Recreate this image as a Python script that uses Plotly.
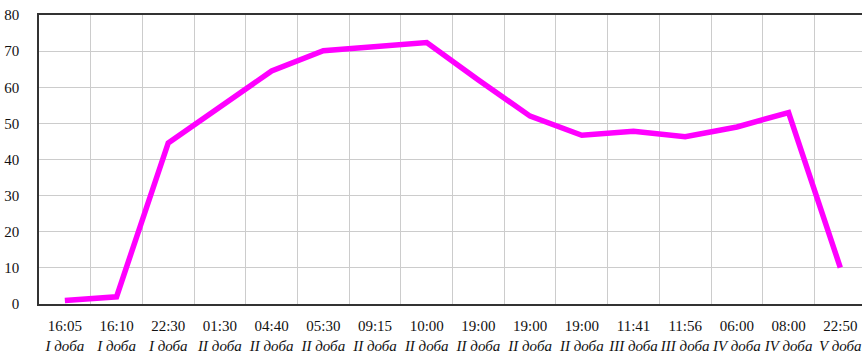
import plotly.graph_objects as go

times = ["16:05", "16:10", "22:30", "01:30", "04:40", "05:30", "09:15", "10:00",
         "19:00", "19:00", "19:00", "11:41", "11:56", "06:00", "08:00", "22:50"]
days = ["I доба", "I доба", "I доба", "II доба", "II доба", "II доба", "II доба", "II доба",
        "II доба", "II доба", "II доба", "III доба", "III доба", "IV доба", "IV доба", "V доба"]
values = [1, 2, 44.6, 54.5, 64.5, 70.1, 71.2, 72.4,
          62, 52, 46.7, 47.8, 46.3, 49, 53, 10.1]
y_ticks = [0, 10, 20, 30, 40, 50, 60, 70, 80]

x_pos = list(range(len(times)))
tick_text = [f"{t}<br><i>{d}</i>" for t, d in zip(times, days)]

fig = go.Figure()
fig.add_trace(go.Scatter(
    x=x_pos, y=values, mode="lines",
    line=dict(color="#ff00ff", width=5.5),
    hoverinfo="skip",
))

font = dict(family="Liberation Serif", size=15, color="#111")

fig.update_layout(
    width=862, height=353,
    margin=dict(l=39, r=0, t=15, b=49),
    paper_bgcolor="white", plot_bgcolor="white",
    showlegend=False,
    font=font,
    xaxis=dict(
        range=[-0.5, 15.42], automargin=False,
        tickmode="array", tickvals=x_pos, ticktext=tick_text,
        showgrid=False, zeroline=False,
        showline=True, linecolor="#333", linewidth=2, mirror=True,
        ticks="", ticklabelstandoff=7,
        tickfont=font,
        minor=dict(tickmode="array", tickvals=[i + 0.5 for i in x_pos],
                   showgrid=True, gridcolor="#cccccc", gridwidth=1, ticks=""),
    ),
    yaxis=dict(
        range=[0, 80], automargin=False, tickmode="array", tickvals=y_ticks,
        showgrid=True, gridcolor="#cccccc", gridwidth=1,
        zeroline=False,
        showline=True, linecolor="#333", linewidth=1.5,
        ticks="", ticklabelstandoff=15,
        tickfont=font,
    ),
)

fig.write_html("out.html", config={"displayModeBar": False},
               post_script="document.body.style.margin='0';")
